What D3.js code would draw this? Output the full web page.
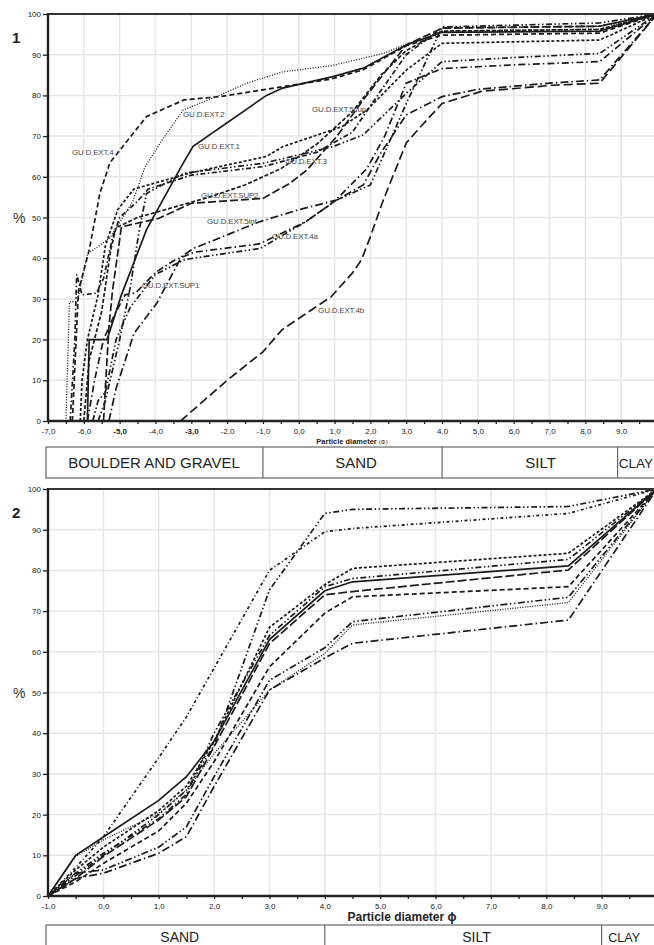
<!DOCTYPE html>
<html>
<head>
<meta charset="utf-8">
<script src="https://cdn.jsdelivr.net/npm/d3@7"></script>
<style>
body { margin: 0; background: #fff; }
svg { font-family: "Liberation Sans", Arial, sans-serif; }
</style>
</head>
<body>
<div class="chart-wrapper"></div>
<script>
// ---- panel 1 data : cumulative % vs phi ----
const topNames = ["GU.D.EXT.1", "GU.D.EXT.2", "GU D.EXT.4", "GU.D.EXT.5sup", "GU.D.EXT.3", "GU.D.EXT.SUP2",
  "GU.D.EXT.5inf", "GU.D.EXT.4a", "GU.D.EXT.4b", "GU.D.EXT.SUP1", "extra-a", "extra-b"];

const topSeries = [
  [[-5.9,0],[-5.85,20],[-5.35,20],[-4.95,31],[-4.25,47],[-3.25,63],[-2.95,67.5],[-0.9,80],[-0.45,81.8],[0.95,84.6],[1.8,86.7],[3.0,92.4],[4.0,95.5],[8.4,95.8],[10,100]],
  [[-6.5,0],[-6.4,29.3],[-6.18,29.3],[-5.9,41],[-5.27,45],[-4.63,54],[-4.29,62.5],[-3.87,68.3],[-3.23,76.4],[-2.3,79.7],[-1.45,83],[-0.44,85.8],[0.9,87.3],[2.36,90.3],[3.0,92.6],[4.0,95.8],[8.4,96.3],[10,100]],
  [[-6.32,0],[-6.15,32],[-5.85,42],[-5.55,56],[-5.27,63.5],[-4.25,74.8],[-3.2,78.9],[-2.2,79.7],[-0.9,81.5],[0.9,84],[1.8,86.3],[3.0,92.2],[4.0,94.8],[8.4,95.3],[10,100]],
  [[-6.1,0],[-6.05,10],[-5.9,20],[-5.6,31],[-5.4,43],[-5.05,52],[-4.6,57],[-3.0,61],[-0.9,65],[-0.45,67.4],[1.2,72.3],[1.9,76.4],[3.0,86.2],[4.0,92.8],[8.4,93.6],[10,100]],
  [[-5.6,0],[-5.4,5],[-5.0,20],[-4.7,33],[-4.45,47],[-4.25,55.9],[-3.2,60.9],[-1.0,63.3],[0.2,65.8],[0.95,67.4],[1.8,70.3],[3.0,80.5],[4.0,88.3],[6.0,89.3],[8.4,90.3],[10,100]],
  [[-5.45,0],[-5.4,8],[-5.3,23],[-5.2,32],[-4.95,47.7],[-3.9,49.8],[-3.0,53.5],[-1.0,54.7],[-0.25,58.4],[0.23,61.7],[1.06,69.9],[1.8,78.9],[3.0,92.4],[4.0,96.5],[8.4,97],[10,100]],
  [[-5.3,0],[-5.1,8],[-4.6,21.5],[-3.96,29],[-3.27,40.4],[-2.94,42.4],[-1.08,49],[-0.04,51.8],[1.06,54.3],[1.8,58],[2.3,66],[3.0,75.2],[4.0,79.7],[5.0,81.5],[7.0,83],[8.4,83.8],[10,100]],
  [[-5.75,0],[-5.6,5],[-5.4,7],[-5.1,20],[-4.7,28],[-4.0,36],[-3.2,39.6],[-2.94,40],[-1.08,42.4],[0.13,48.6],[1.06,54.3],[2.0,58],[3.0,78],[4.0,96.8],[8.4,97.8],[10,100]],
  [[-3.3,0],[-2.0,10],[-1.0,17],[-0.47,22.4],[0.9,30.5],[1.5,36.4],[1.75,39.6],[2.0,45.3],[2.36,54.3],[3.0,68.3],[3.4,72.3],[4.0,78],[5.1,81],[7.1,82.5],[8.4,83],[10,100]],
  [[-5.9,0],[-5.7,10],[-5.45,20],[-5.15,26],[-4.85,31],[-4.55,31.5],[-4.0,36.5],[-3.45,39.6],[-2.9,41.5],[-1.1,43.5],[0.2,49],[1.0,54],[1.9,62],[2.4,70],[3.0,83],[4.0,86.6],[6.0,87.5],[8.4,88.3],[10,100]],
  [[-6.38,0],[-6.25,20],[-6.2,36],[-6.05,31],[-5.65,31.4],[-5.45,35],[-5.2,45],[-5.0,50],[-4.5,54],[-4.2,57],[-3.0,60.4],[-1.0,62.5],[0.5,66],[1.5,71],[2.2,80],[3.0,90],[4.0,96.6],[8.4,97],[10,100]],
  [[-6.0,0],[-5.85,15],[-5.5,27],[-5.25,42],[-5.1,47.5],[-4.5,50],[-3.5,52.5],[-2.5,55],[-1.5,58],[-0.5,62],[0.5,68],[1.5,76],[2.3,85],[3.0,91],[4.0,95.8],[8.4,96.2],[10,100]]
];
const topDash = ["none", "1,1.6", "5,3", "3,2", "6,2.5,1.5,2.5,1.5,2.5", "8,3", "8,3,1.5,3",
  "6,2.5,1.5,2.5,1.5,2.5", "9,4", "7,3,1.5,3", "5,2.5,1.5,2.5", "4,2"];

// label anchors [text, phi, %]
const topLabels = [
  ["GU D.EXT.4", -6.33, 65.4], ["GU.D.EXT.2", -3.23, 74.7], ["GU.D.EXT.1", -2.81, 66.8],
  ["GU.D.EXT.5sup", 0.37, 75.9], ["GU.D.EXT.3", -0.38, 63.1], ["GU.D.EXT.SUP2", -2.73, 54.8],
  ["GU.D.EXT.5inf", -2.56, 48.4], ["GU.D.EXT.4a", -0.75, 44.7], ["GU.D.EXT.SUP1", -4.38, 32.7],
  ["GU.D.EXT.4b", 0.54, 26.5]
];
const topTicks = d3.range(-7, 10);
const topBold = [-5, -3];
const topClasses = [["BOULDER AND GRAVEL", -7, -1, -4.04], ["SAND", -1, 4, 1.6], ["SILT", 4, 8.9, 6.75], ["CLAY", 8.9, 11, 8.93]];

// ---- panel 2 data ----
const botPhi = [-1, -0.5, 0, 1, 1.5, 2, 3, 4, 4.5, 8.4, 10];
const botSeries = [
  [0, 10, 14.5, 23.5, 29.3, 38, 63, 75, 77.2, 81.1, 100],
  [0, 7, 14.5, 34, 44, 56, 80, 89.5, 90.3, 94, 100],
  [0, 5, 10, 20, 26, 37, 75.2, 94, 95, 95.7, 100],
  [0, 6.4, 12, 21, 27, 38, 66, 76.5, 80.5, 84.2, 100],
  [0, 5.6, 10.5, 19, 25, 40, 64, 76, 78, 82.7, 100],
  [0, 4.3, 9.7, 18.7, 24.4, 36.7, 62, 74, 74.8, 80.1, 100],
  [0, 3.5, 8, 16, 22.8, 33, 56.3, 69.5, 73.5, 76, 100],
  [0, 5.6, 6.4, 12, 17, 29.3, 53, 61, 67.4, 73.4, 100],
  [0, 9.7, 13.8, 20.3, 26, 35, 50.6, 59.6, 66.6, 72.1, 100],
  [0, 4.3, 5.6, 10.5, 14.6, 26.9, 50.6, 58.5, 62.1, 67.8, 100]
];
const botDash = ["none", "3,2.5,1,2.5", "6,2.5,1.5,2.5,1.5,2.5", "3,2", "6,2.5,1.5,2.5,1.5,2.5",
  "9,3", "5,3", "7,2.5,1.5,2.5,1.5,2.5", "1,1.5", "8,3,1.5,3"];
const botTicks = d3.range(-1, 10);
const botClasses = [["SAND", -1, 4, 1.38], ["SILT", 4, 9, 6.74], ["CLAY", 9, 11, 9.12]];

const yTicks = d3.range(0, 101, 10);

let svg = d3.select(".chart-wrapper").append("svg").attr("width", 654).attr("height", 945);

let fmt = d => (d < 0 ? "-" : "") + Math.abs(d).toFixed(1).replace(".", ",");

function panel(opts) {
  let x = d3.scaleLinear().domain(opts.xDomain).range([48, 657]);
  let y = d3.scaleLinear().domain([0, 100]).range([opts.bottom, opts.top]);
  let g = svg.append("g");

  // grid
  g.append("g").selectAll("line.v")
    .data(d3.range(opts.xDomain[0] + 1, opts.xDomain[1] + 1))
    .enter().append("line")
    .attr("x1", d => x(d)).attr("x2", d => x(d))
    .attr("y1", y(0)).attr("y2", y(100))
    .attr("stroke", "#e6e6e6").attr("stroke-width", 1.5);
  g.append("g").selectAll("line.h")
    .data(yTicks.slice(1, -1))
    .enter().append("line")
    .attr("x1", x(opts.xDomain[0])).attr("x2", 657)
    .attr("y1", d => y(d)).attr("y2", d => y(d))
    .attr("stroke", "#e6e6e6").attr("stroke-width", 1.5);

  // curves
  let line = d3.line().x(d => x(d[0])).y(d => y(d[1]));
  g.append("g").selectAll("path")
    .data(opts.series)
    .enter().append("path")
    .attr("d", line)
    .attr("fill", "none")
    .attr("stroke", "#1a1a1a")
    .attr("stroke-width", (d, i) => opts.dash[i] === "1,1.6" || opts.dash[i] === "1,1.5" ? 1.3 : 1.7)
    .attr("stroke-dasharray", (d, i) => opts.dash[i]);

  // axes
  let xAxis = d3.axisBottom(x).tickValues(opts.ticks).tickSize(3).tickPadding(4).tickFormat(fmt);
  let xMinor = d3.axisBottom(x).tickValues(opts.ticks.map(d => d + 0.5)).tickSize(3).tickFormat("");
  let yAxis = d3.axisLeft(y).tickValues(yTicks).tickSize(5).tickPadding(2).tickFormat(d3.format("d"));

  let ax = g.append("g").attr("transform", `translate(0,${y(0)})`).call(xAxis);
  let axm = g.append("g").attr("transform", `translate(0,${y(0)})`).call(xMinor);
  let ay = g.append("g").attr("transform", `translate(${x(opts.xDomain[0])},0)`).call(yAxis);
  [ax, axm, ay].forEach(a => {
    a.select(".domain").remove();
    a.selectAll(".tick line").attr("stroke", "#222").attr("stroke-width", 1.3);
    a.selectAll("text").attr("font-size", 8).attr("fill", "#222").attr("font-family", "Liberation Sans, Arial, sans-serif");
  });
  ax.selectAll("text")
    .attr("font-weight", d => opts.bold && opts.bold.includes(d) ? "bold" : "normal");

  // frame
  g.append("line").attr("x1", x(opts.xDomain[0])).attr("x2", 657).attr("y1", y(0)).attr("y2", y(0))
    .attr("stroke", "#222").attr("stroke-width", 2.4);
  g.append("line").attr("x1", x(opts.xDomain[0])).attr("x2", 657).attr("y1", y(100)).attr("y2", y(100))
    .attr("stroke", "#333").attr("stroke-width", 2);
  g.append("line").attr("x1", x(opts.xDomain[0])).attr("x2", x(opts.xDomain[0])).attr("y1", y(0) + 1).attr("y2", y(100) - 1)
    .attr("stroke", "#222").attr("stroke-width", 2.4);

  // panel number and % sign
  g.append("text").attr("x", 12).attr("y", y(100) + 29).text(opts.num)
    .attr("font-size", 15).attr("font-weight", "bold").attr("fill", "#222");
  g.append("text").attr("x", 13).attr("y", y(50) + 5).text("%")
    .attr("font-size", 14).attr("fill", "#333");

  // class table
  let tbl = g.append("g");
  tbl.append("rect").attr("x", 46).attr("y", opts.tableTop).attr("width", 640).attr("height", 31)
    .attr("fill", "none").attr("stroke", "#666").attr("stroke-width", 1.2);
  tbl.selectAll("line").data(opts.classes.slice(1)).enter().append("line")
    .attr("x1", d => x(d[1])).attr("x2", d => x(d[1]))
    .attr("y1", opts.tableTop).attr("y2", opts.tableTop + 31)
    .attr("stroke", "#666").attr("stroke-width", 1.2);
  tbl.selectAll("text").data(opts.classes).enter().append("text")
    .attr("x", d => x(d[3]))
    .attr("y", opts.tableTop + opts.textDy)
    .attr("text-anchor", d => d[0] === "CLAY" ? "start" : "middle")
    .attr("font-size", d => d[0] === "CLAY" ? opts.tableFont - 1.5 : opts.tableFont)
    .attr("fill", "#222")
    .text(d => d[0]);

  return {x, y, g};
}

// panel 1
let p1 = panel({xDomain: [-7, 10], top: 14, bottom: 421, series: topSeries, dash: topDash,
  ticks: topTicks, bold: topBold, num: "1", classes: topClasses, tableTop: 447, textDy: 21, tableFont: 15});

p1.g.append("g").selectAll("text")
  .data(topLabels)
  .enter().append("text")
  .attr("x", d => p1.x(d[1])).attr("y", d => p1.y(d[2]))
  .attr("font-size", 8).attr("fill", "#4a4a4a").attr("letter-spacing", -0.2)
  .text(d => d[0]);

let lab1 = p1.g.append("text").attr("x", 352).attr("y", 444).attr("text-anchor", "middle")
  .attr("font-size", 7.5).attr("font-weight", "bold").attr("fill", "#222");
lab1.append("tspan").text("Particle diameter ");
lab1.append("tspan").attr("font-size", 6).attr("font-weight", "normal").text("(Φ)");

// panel 2
let p2series = botSeries.map(s => s.map((v, i) => [botPhi[i], v]));
let p2 = panel({xDomain: [-1, 10], top: 489, bottom: 896, series: p2series, dash: botDash,
  ticks: botTicks, bold: [], num: "2", classes: botClasses, tableTop: 925, textDy: 17, tableFont: 14});

p2.g.append("text").attr("x", 402).attr("y", 921).attr("text-anchor", "middle")
  .attr("font-size", 12).attr("font-weight", "bold").attr("fill", "#222")
  .text("Particle diameter ϕ");
</script>
</body>
</html>
